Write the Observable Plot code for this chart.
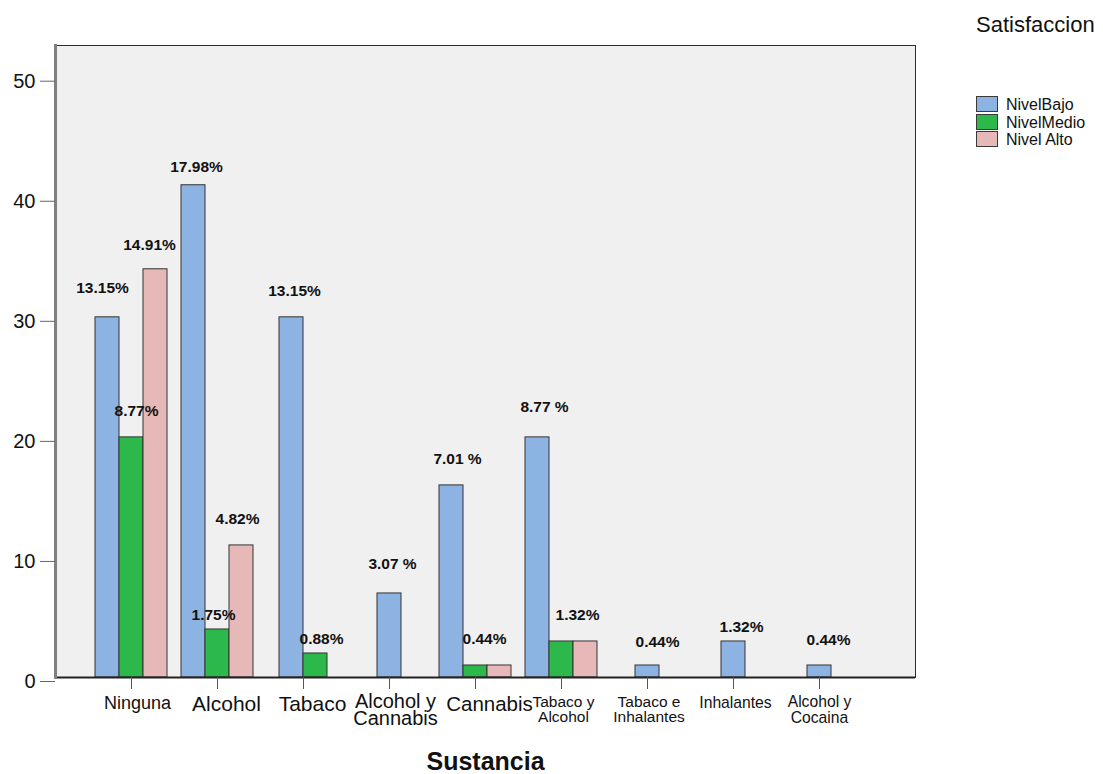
<!DOCTYPE html>
<html>
<head>
<meta charset="utf-8">
<script src="https://cdn.jsdelivr.net/npm/d3@7"></script>
<script src="https://cdn.jsdelivr.net/npm/@observablehq/plot@0.6"></script>
<style>
  body { margin: 0; background: #fff; font-family: "Liberation Sans", Arial, sans-serif; }
  #wrap { position: relative; width: 1103px; height: 774px; }
  #wrap svg { position: absolute; left: 0; top: 0; }
  .leg-title { position: absolute; left: 976px; top: 14px; font-size: 22px; line-height: 22px; color: #111; white-space: nowrap; }
  .leg-sw { position: absolute; left: 976px; width: 20px; height: 14px; border: 1px solid #3a3a3a; }
  .leg-tx { position: absolute; left: 1006px; font-size: 16px; line-height: 16px; color: #111; white-space: nowrap; }
</style>
</head>
<body>
<div id="wrap"></div>
<script>
// Substance categories and their axis labels
const categories = ["Ninguna", "Alcohol", "Tabaco", "Alcohol y Cannabis", "Cannabis",
  "Tabaco y Alcohol", "Tabaco e Inhalantes", "Inhalantes", "Alcohol y Cocaina"];
const tickLabels = ["Ninguna", "Alcohol", "Tabaco", "Alcohol y\nCannabis", "Cannabis",
  "Tabaco y\nAlcohol", "Tabaco e\nInhalantes", "Inhalantes", "Alcohol y\nCocaina"];

// Satisfaction levels (series)
const series = ["NivelBajo", "NivelMedio", "Nivel Alto"];

// Counts per substance for each level
const nivelBajo  = [30, 41, 30, 7, 16, 20, 1, 3, 1];
const nivelMedio = [20, 4, 2, 0, 1, 3, 0, 0, 0];
const nivelAlto  = [34, 11, 0, 0, 1, 3, 0, 0, 0];

// Percentage annotations (of 228 cases)
const pctBajo  = ["13.15%", "17.98%", "13.15%", "3.07 %", "7.01 %", "8.77 %", "0.44%", "1.32%", "0.44%"];
const pctMedio = ["8.77%", "1.75%", "0.88%", null, "0.44%", "1.32%", null, null, null];
const pctAlto  = ["14.91%", "4.82%", null, null, null, null, null, null, null];

const yTicks = [0, 10, 20, 30, 40, 50];

// ---- styling / layout ----
const colors = ["#8db3e2", "#2db84b", "#e6b8b7"];
const tickFontSize = [18, 21, 21, 20, 20.5, 15.5, 15.5, 15.7, 15.7];
const tickDx = [6, 9, 9, 6, 14, 2, 1.5, 2, 0];
const tickLineHeight = [1, 1, 1, 0.85, 1, 0.97, 0.97, 1, 0.97];
// pixel nudges of the percentage annotations, relative to the top of their bar
const labelNudge = [
  [[-5, -29], [3, -18], [3, -26], [3, -29], [6, -26], [7, -30], [10, -23], [8, -14], [9, -25]],
  [[5, -26], [-4, -14], [6, -14], null, [9, -26], [16, -26], null, null, null],
  [[-6, -24], [-4, -26], null, null, null, null, null, null, null]
];
const step = 86;          // px between category centres
const barW = 24 / step;   // bar width in category units

const values = [nivelBajo, nivelMedio, nivelAlto];
const pcts = [pctBajo, pctMedio, pctAlto];

// Empty levels are dropped and the remaining bars are centred on the category
const bars = [];
categories.forEach((cat, i) => {
  const present = series.map((s, k) => ({s, k, v: values[k][i]})).filter(d => d.v > 0);
  present.forEach((d, j) => {
    const slot = j - (present.length - 1) / 2;
    const xc = i + slot * barW;
    bars.push({cat, i, k: d.k, series: d.s, value: d.v, pct: pcts[d.k][i],
      nudge: labelNudge[d.k][i], xc, x1: xc - barW / 2, x2: xc + barW / 2});
  });
});

const font = "'Liberation Sans', Arial, sans-serif";
const idx = d3.range(categories.length);

const tickLabelMarks = idx.map(i =>
  Plot.text([i], {
    x: d => d, text: d => tickLabels[d], frameAnchor: "bottom",
    lineAnchor: "top", dy: i === 3 ? 18 : 19, dx: tickDx[i],
    fontSize: tickFontSize[i], lineHeight: tickLineHeight[i], fill: "#111"
  })
);

const pctMarks = bars.filter(b => b.pct).map(b =>
  Plot.text([b], {
    x: "xc", y: "value", text: "pct",
    dx: b.nudge[0], dy: b.nudge[1],
    fontSize: 15.5, fontWeight: "bold", fill: "#111", lineAnchor: "middle"
  })
);

const chart = Plot.plot({
  width: 1103,
  height: 774,
  marginLeft: 55,
  marginRight: 188,
  marginTop: 45,
  marginBottom: 97,
  style: {fontFamily: font, background: "transparent", overflow: "visible"},
  x: {type: "linear", domain: [0, categories.length - 1], range: [131, 131 + step * (categories.length - 1)]},
  y: {domain: [0, 52.64]},
  color: {domain: series, range: colors},
  marks: [
    Plot.frame({fill: "#f0f0f0", stroke: "#2b2b2b", strokeWidth: 1}),
    Plot.rect(bars, {x1: "x1", x2: "x2", y1: 0, y2: "value", fill: "series", stroke: "#333", strokeWidth: 1}),
    Plot.ruleY([0], {stroke: "#222", strokeWidth: 2}),
    Plot.frame({anchor: "left", stroke: "#808080", strokeWidth: 3}),
    Plot.axisY({ticks: yTicks, tickSize: 15, tickPadding: 5, fontSize: 20, dy: 4,
      stroke: "#666", fill: "#111", label: null}),
    Plot.axisX({ticks: idx, tickSize: 12, tickFormat: () => "", stroke: "#555", label: null}),
    ...tickLabelMarks,
    ...pctMarks,
    Plot.text(["Sustancia"], {
      frameAnchor: "bottom", lineAnchor: "bottom", dy: 92,
      text: d => d, fontSize: 25, fontWeight: "bold", fill: "#111"
    })
  ]
});

const wrap = document.getElementById("wrap");
wrap.appendChild(chart);

// Legend
const title = document.createElement("div");
title.className = "leg-title";
title.textContent = "Satisfaccion";
wrap.appendChild(title);
series.forEach((s, k) => {
  const top = 96 + k * 17.5;
  const sw = document.createElement("div");
  sw.className = "leg-sw";
  sw.style.top = top + "px";
  sw.style.background = colors[k];
  wrap.appendChild(sw);
  const tx = document.createElement("div");
  tx.className = "leg-tx";
  tx.style.top = (top + 1) + "px";
  tx.textContent = s;
  wrap.appendChild(tx);
});
</script>
</body>
</html>
